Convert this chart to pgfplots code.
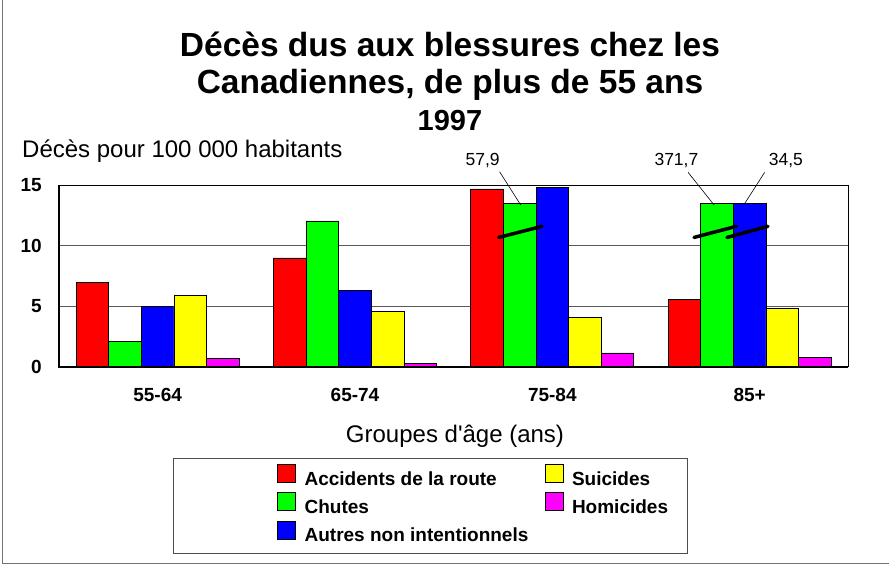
\documentclass[border=0pt]{standalone}
\usepackage{pgfplots}
\pgfplotsset{compat=1.18}
\usepackage{fontspec}
\setmainfont{Liberation Sans}
\newfontfamily\plainfont{Liberation Sans}
\definecolor{cRed}{RGB}{255,0,0}
\definecolor{cGreen}{RGB}{0,255,0}
\definecolor{cBlue}{RGB}{0,0,255}
\definecolor{cYellow}{RGB}{255,255,0}
\definecolor{cMag}{RGB}{255,0,255}
\pgfplotsset{sq/.style={legend image code/.code={\draw[##1] (0pt,-2pt) rectangle (18pt,16pt);}}}
\begin{document}
\begin{tikzpicture}[x=1pt,y=1pt]
\path[use as bounding box] (0,0) rectangle (889,566);
\draw[black!55, line width=1.5pt] (2.7,566) -- (2.7,2.7) -- (889,2.7);
% titles
\node[anchor=base, font=\fontsize{33.5}{38}\selectfont\bfseries, inner sep=0] at (450,509) {Décès dus aux blessures chez les};
\node[anchor=base, font=\fontsize{33.5}{38}\selectfont\bfseries, inner sep=0] at (450,472) {Canadiennes, de plus de 55 ans};
\node[anchor=base, font=\fontsize{29}{33}\selectfont\bfseries, inner sep=0] at (450,435) {1997};
\node[anchor=base west, font=\fontsize{24}{28}\selectfont, inner sep=0] at (22,408) {Décès pour 100 000 habitants};
\node[anchor=base, font=\plainfont\fontsize{24}{28}\selectfont, inner sep=0] at (455,124) {Groupes d'âge (ans)};
% legend frame
\draw[black!70, line width=1pt] (173.5,12.5) rectangle (687,107.7);
\begin{axis}[
  at={(59pt,199.2pt)}, anchor=south west,
  scale only axis, width=789.3pt, height=181.5pt,
  xmin=-0.5, xmax=3.5, ymin=0, ymax=15,
  ybar=0pt, bar width=32.6pt,
  clip=false,
  axis line style={black, line width=0.8pt},
  xtick={0,1,2,3}, xticklabels={55-64,65-74,75-84,85+},
  ytick={0,5,10,15},
  major tick length=0pt,
  ymajorgrids, grid style={black!65, line width=0.8pt},
  /pgf/number format/assume math mode=true,
  xticklabel style={font=\fontsize{19}{22}\selectfont\bfseries, anchor=north, inner sep=0pt, yshift=-21pt},
  yticklabel style={font=\fontsize{19}{22}\selectfont\bfseries, anchor=east, inner sep=0pt, xshift=-17pt},
  legend columns=2,
  legend cell align=left,
  legend style={at={(axis description cs:0.2762,-0.5355)}, anchor=north west, draw=none, fill=none,
    inner sep=0pt, row sep=3pt, column sep=9pt,
    font=\fontsize{19}{22}\selectfont\bfseries,
    nodes={inner sep=0pt, text height=14pt, text depth=4pt}},
]
\addplot[fill=cRed, draw=black, line width=0.7pt, bar shift=-65.2pt, forget plot] coordinates {(0,7.0) (1,9.0) (2,14.7) (3,5.55)};
\addplot[fill=cGreen, draw=black, line width=0.7pt, bar shift=-32.6pt, forget plot] coordinates {(0,2.1) (1,12.05) (2,13.5) (3,13.5)};
\addplot[fill=cBlue, draw=black, line width=0.7pt, bar shift=0pt, forget plot] coordinates {(0,5.0) (1,6.3) (2,14.8) (3,13.5)};
\addplot[fill=cYellow, draw=black, line width=0.7pt, bar shift=32.6pt, forget plot] coordinates {(0,5.9) (1,4.6) (2,4.1) (3,4.8)};
\addplot[fill=cMag, draw=black, line width=0.7pt, bar shift=65.2pt, forget plot] coordinates {(0,0.7) (1,0.3) (2,1.15) (3,0.8)};
\addlegendimage{sq, fill=cRed, draw=black}
\addlegendentry{\makebox[231pt][l]{Accidents de la route}}
\addlegendimage{sq, fill=cYellow, draw=black}
\addlegendentry{Suicides}
\addlegendimage{sq, fill=cGreen, draw=black}
\addlegendentry{\makebox[231pt][l]{Chutes}}
\addlegendimage{sq, fill=cMag, draw=black}
\addlegendentry{Homicides}
\addlegendimage{sq, fill=cBlue, draw=black}
\addlegendentry{\makebox[231pt][l]{Autres non intentionnels}}
% thicker left and bottom axis lines
\draw[black, line width=2pt] (rel axis cs:0,1) -- (rel axis cs:0,0) -- (rel axis cs:1,0);
% break marks
\draw[black, line width=3.5pt, line cap=round] (axis cs:1.728,10.69) -- (axis cs:1.948,11.61);
\draw[black, line width=3.5pt, line cap=round] (axis cs:2.718,10.69) -- (axis cs:2.933,11.61);
\draw[black, line width=3.5pt, line cap=round] (axis cs:2.885,10.69) -- (axis cs:3.093,11.61);
% value labels for broken bars
\draw[black, line width=0.6pt] (axis cs:1.733,16.12) -- (axis cs:1.840,13.37);
\draw[black, line width=0.6pt] (axis cs:2.688,16.07) -- (axis cs:2.820,13.37);
\draw[black, line width=0.6pt] (axis cs:3.076,16.07) -- (axis cs:2.970,13.37);
\node[font=\fontsize{17.5}{20}\selectfont, inner sep=0pt] at (axis cs:1.647,17.09) {57,9};
\node[font=\fontsize{17.5}{20}\selectfont, inner sep=0pt] at (axis cs:2.629,17.09) {371,7};
\node[font=\fontsize{17.5}{20}\selectfont, inner sep=0pt] at (axis cs:3.184,17.09) {34,5};
\end{axis}
\end{tikzpicture}
\end{document}
